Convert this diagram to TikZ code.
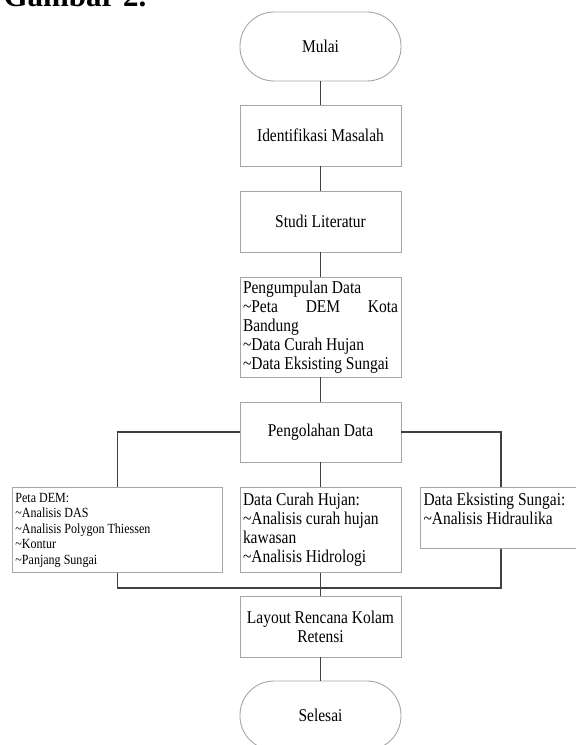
\documentclass[tikz,border=0pt]{standalone}
\usepackage{fontspec}
\setmainfont[FakeStretch=0.86]{Liberation Serif}
\newfontfamily\judulfont{Liberation Serif}
\usetikzlibrary{shapes,arrows}

\begin{document}
\begin{tikzpicture}[x=1pt,y=-1pt,
		kotak/.style={draw=black!35, line width=0.9pt, minimum width=161pt, inner sep=3pt, font=\fontsize{18}{19}\selectfont},
		ujung/.style={kotak, rounded corners=34pt, minimum height=69pt},
		garis/.style={draw=black!75, line width=1.4pt}]
		\useasboundingbox (0,0) rectangle (576,745);
		\clip (0,0) rectangle (576,745);

		\node[anchor=base west, font=\judulfont\fontsize{31}{31}\selectfont\bfseries] (judul) at (0,6) {Gambar 2.};

		\node[ujung] (mulai) at (320.5,46.5) {Mulai};
		\node[kotak, minimum height=61pt] (ident) at (320.5,135.5) {Identifikasi Masalah};
		\node[kotak, minimum height=61pt] (studi) at (320.5,221.5) {Studi Literatur};
		\node[kotak, minimum height=100pt, text width=155pt, align=flush left, anchor=north] (kumpul) at (320.5,276.5) {Pengumpulan Data\\ \makebox[155pt]{\textasciitilde Peta\hfill DEM\hfill Kota}\\ Bandung\\ \textasciitilde Data Curah Hujan\\ \textasciitilde Data Eksisting Sungai};
		\node[kotak, minimum height=60pt] (olah) at (320.5,432) {Pengolahan Data};

		\node[kotak, font=\fontsize{14}{15.5}\selectfont, minimum width=210pt, text width=204pt, minimum height=85pt, align=flush left, anchor=north west] (peta) at (12,487) {Peta DEM:\\ \textasciitilde Analisis DAS\\ \textasciitilde Analisis Polygon Thiessen\\ \textasciitilde Kontur\\ \textasciitilde Panjang Sungai};
		\node[kotak, minimum height=85pt, text width=155pt, align=flush left, anchor=north] (curah) at (320.5,487) {Data Curah Hujan:\\ \textasciitilde Analisis curah hujan\\ kawasan\\ \textasciitilde Analisis Hidrologi};
		\node[kotak, minimum height=61pt, text width=155pt, align=flush left, anchor=north] (eksis) at (501,487) {Data Eksisting Sungai:\\ \textasciitilde Analisis Hidraulika\\ \mbox{}};

		\node[kotak, minimum height=61pt, text width=155pt, align=flush center] (layout) at (320.5,626.5) {Layout Rencana Kolam\\ Retensi};
		\node[ujung] (selesai) at (320.5,715.5) {Selesai};

		\coordinate (gabung) at (320.5,588);

		\foreach \a/\b in {mulai/ident, ident/studi, studi/kumpul, kumpul/olah, olah/curah, curah/layout, layout/selesai}{
			\draw[garis] (\a) -- (\b);
		}
		\draw[garis] (olah.west) -| (peta.north);
		\draw[garis] (olah.east) -| (eksis.north);
		\draw[garis] (peta.south) |- (gabung) -| (eksis.south);

	\end{tikzpicture}
\end{document}
